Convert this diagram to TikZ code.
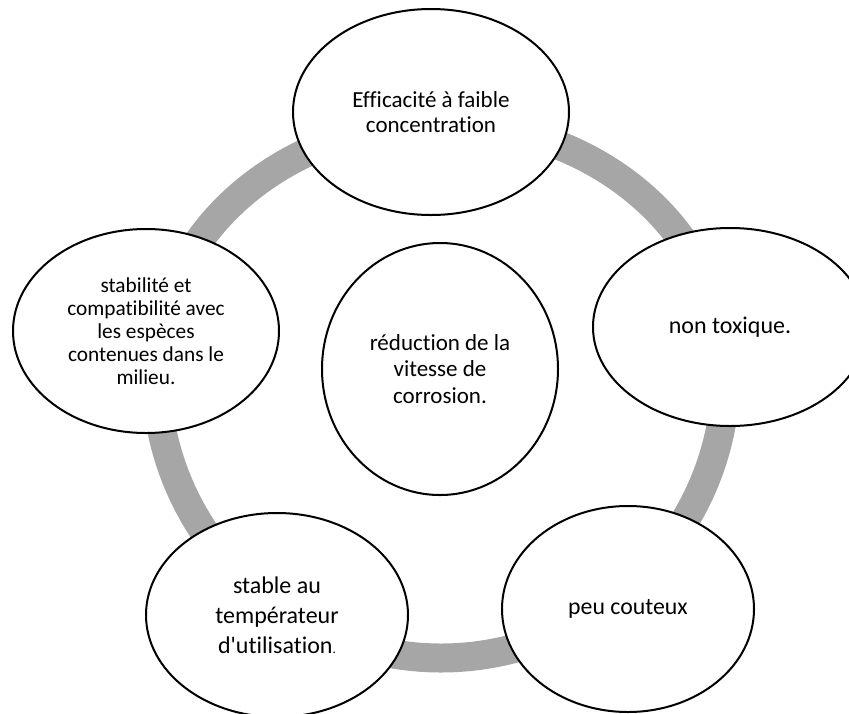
\documentclass[tikz,border=0pt]{standalone}
\usepackage{fontspec}
\defaultfontfeatures{Ligatures=NoCommon}
\setmainfont{Carlito}
\usetikzlibrary{shapes.geometric}
\definecolor{ringgray}{RGB}{166,166,166}
\tikzset{
  bubble/.style={ellipse, draw=black, line width=2pt, fill=white, inner sep=0pt, align=center, text=black},
  ringline/.style={draw=ringgray, line width=29pt}
}
\begin{document}
\begin{tikzpicture}[x=1pt,y=-1pt]
\useasboundingbox (0,0) rectangle (849,713);
\clip (0,0) rectangle (849,713);
% ring: lower half circle, upper half flatter ellipse
\draw[ringline] plot[domain=0:358, samples=180, smooth] ({441+285*cos(\x)}, {373+((\x<180)*285+(\x>=180)*250)*sin(\x)}) -- cycle;
% bubbles
\node[bubble, minimum width=276pt, minimum height=206pt, font=\fontsize{23}{25}\selectfont] (top) at (431,112) {Efficacité à faible\\concentration};
\node[bubble, minimum width=274pt, minimum height=198pt, font=\fontsize{24}{26}\selectfont] (right) at (730,327) {non toxique.};
\node[bubble, minimum width=252pt, minimum height=206pt, font=\fontsize{23.8}{26}\selectfont] (bright) at (628,609) {peu couteux};
\node[bubble, minimum width=262pt, minimum height=204pt, font=\fontsize{24}{30}\selectfont] (bleft) at (277,615) {stable au\\températeur\\d\textquotesingle utilisation{\fontsize{13}{13}\selectfont.}};
\node[bubble, minimum width=266pt, minimum height=204pt, font=\fontsize{21.3}{23}\selectfont] (left) at (146,331) {stabilité et\\compatibilité avec\\les espèces\\contenues dans le\\milieu.};
\node[bubble, minimum width=236pt, minimum height=252pt, font=\fontsize{23}{26.7}\selectfont] (center) at (440,369) {réduction de la\\vitesse de\\corrosion.};
\end{tikzpicture}
\end{document}
